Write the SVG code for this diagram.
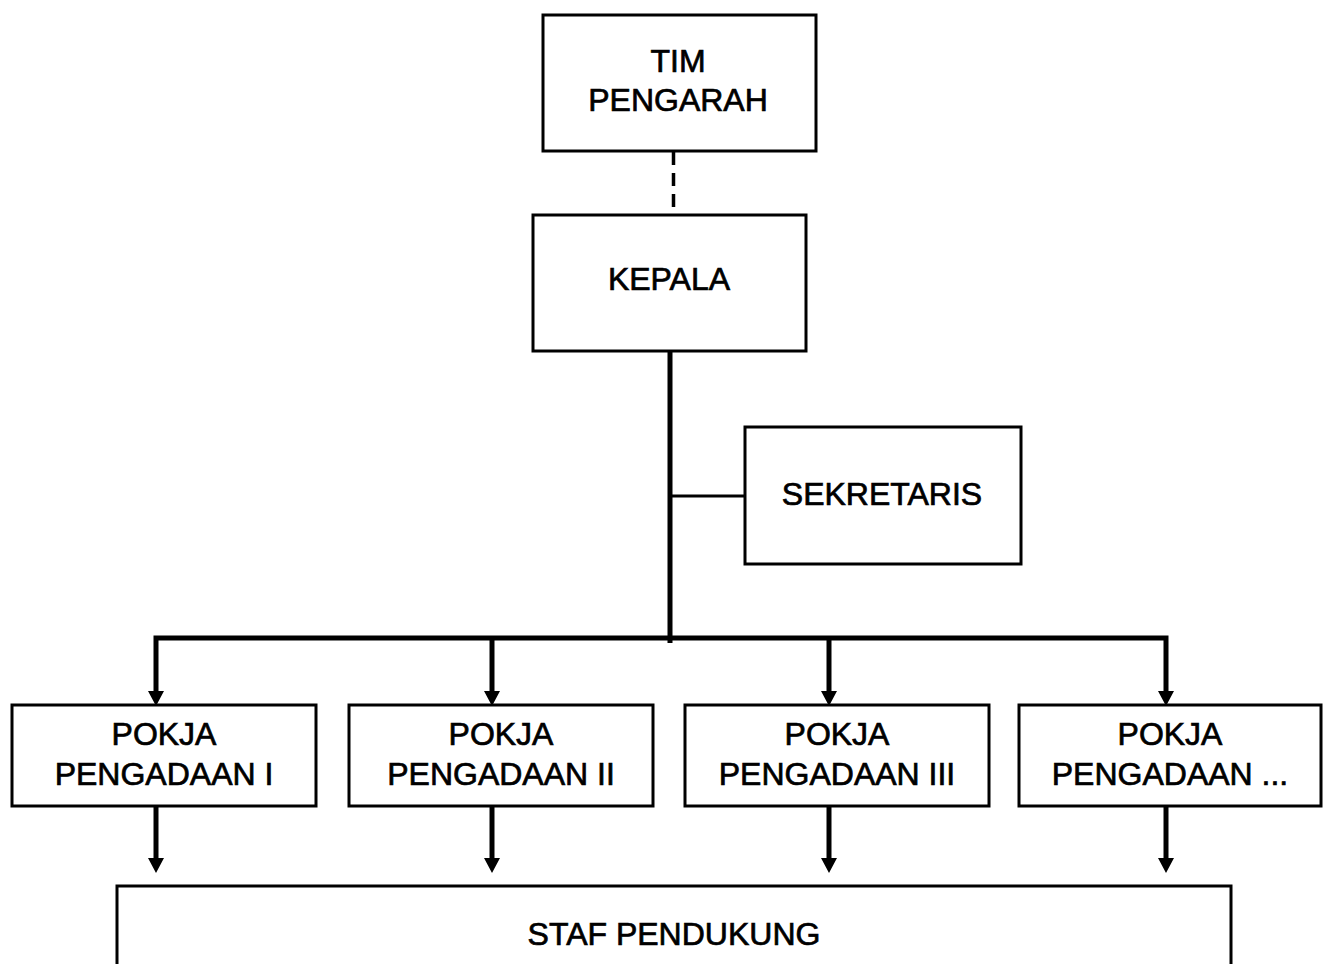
<svg xmlns="http://www.w3.org/2000/svg" width="1329" height="964" viewBox="0 0 1329 964">
<style>
.box{fill:#fff;stroke:#000;stroke-width:3}
.t{font-family:"Liberation Sans",Arial,sans-serif;font-size:32px;fill:#000;stroke:#000;stroke-width:0.7;text-anchor:middle}
.thick{stroke:#000;stroke-width:5;fill:none}
.thin{stroke:#000;stroke-width:3;fill:none}
.head{fill:#000}
</style>
<rect width="1329" height="964" fill="#fff"/>
<g id="connectors">
<line x1="673.5" y1="152" x2="673.5" y2="215" stroke="#000" stroke-width="3.5" stroke-dasharray="13,8"/>
<line class="thick" x1="670" y1="351" x2="670" y2="643"/>
<line class="thin" x1="670" y1="496" x2="745" y2="496"/>
<polyline class="thick" points="156,693 156,638 1166,638 1166,693"/>
<line class="thick" x1="492" y1="638" x2="492" y2="693"/>
<line class="thick" x1="829" y1="638" x2="829" y2="693"/>
<path class="head" d="M148,691 L164,691 L156,706 Z M484,691 L500,691 L492,706 Z M821,691 L837,691 L829,706 Z M1158,691 L1174,691 L1166,706 Z"/>
<line class="thick" x1="156" y1="807" x2="156" y2="860"/>
<line class="thick" x1="492" y1="807" x2="492" y2="860"/>
<line class="thick" x1="829" y1="807" x2="829" y2="860"/>
<line class="thick" x1="1166" y1="807" x2="1166" y2="860"/>
<path class="head" d="M148,858 L164,858 L156,873 Z M484,858 L500,858 L492,873 Z M821,858 L837,858 L829,873 Z M1158,858 L1174,858 L1166,873 Z"/>
</g>
<g id="tim-pengarah">
<rect class="box" x="543" y="15" width="273" height="136"/>
<text class="t" x="678" y="72">TIM</text>
<text class="t" x="678" y="111">PENGARAH</text>
</g>
<g id="kepala">
<rect class="box" x="533" y="215" width="273" height="136"/>
<text class="t" x="669" y="290">KEPALA</text>
</g>
<g id="sekretaris">
<rect class="box" x="745" y="427" width="276" height="137"/>
<text class="t" x="882" y="505">SEKRETARIS</text>
</g>
<g id="pokja1">
<rect class="box" x="12" y="705" width="304" height="101"/>
<text class="t" x="164" y="745">POKJA</text>
<text class="t" x="164" y="785">PENGADAAN I</text>
</g>
<g id="pokja2">
<rect class="box" x="349" y="705" width="304" height="101"/>
<text class="t" x="501" y="745">POKJA</text>
<text class="t" x="501" y="785">PENGADAAN II</text>
</g>
<g id="pokja3">
<rect class="box" x="685" y="705" width="304" height="101"/>
<text class="t" x="837" y="745">POKJA</text>
<text class="t" x="837" y="785">PENGADAAN III</text>
</g>
<g id="pokja4">
<rect class="box" x="1019" y="705" width="302" height="101"/>
<text class="t" x="1170" y="745">POKJA</text>
<text class="t" x="1170" y="785">PENGADAAN ...</text>
</g>
<g id="staf">
<rect class="box" x="117" y="886" width="1114" height="120"/>
<text class="t" x="674" y="945">STAF PENDUKUNG</text>
</g>
</svg>
